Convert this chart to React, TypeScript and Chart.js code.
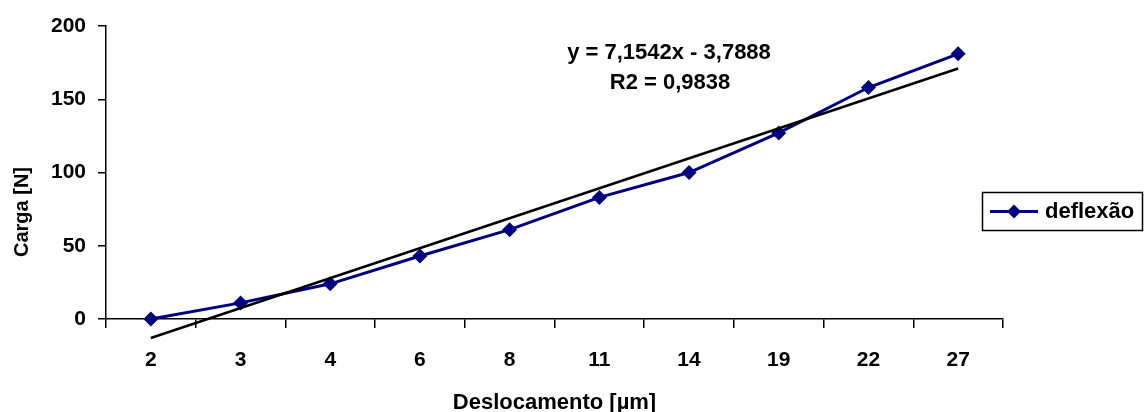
import React, { useEffect, useRef } from "react";
import { Chart, registerables } from "chart.js";

Chart.register(...registerables);

const categories = ["2", "3", "4", "6", "8", "11", "14", "19", "22", "27"];
const cargaValues = [0, 11, 24, 43, 61, 83, 100, 127, 158, 181];
// linear trendline: first and last ends only
const trendValues = [-13, null, null, null, null, null, null, null, null, 171];
const yTicks = [0, 50, 100, 150, 200];
const equationLines = ["y = 7,1542x - 3,7888", "R2 = 0,9838"];
const seriesLabel = "deflexão";
const xTitle = "Deslocamento [µm]";
const yTitle = "Carga [N]";

const FONT = "'Liberation Sans', Arial, sans-serif";
const NAVY = "#000080";

function drawDiamond(ctx: CanvasRenderingContext2D, x: number, y: number, r: number) {
  ctx.beginPath();
  ctx.moveTo(x - r, y);
  ctx.lineTo(x, y - r);
  ctx.lineTo(x + r, y);
  ctx.lineTo(x, y + r);
  ctx.closePath();
  ctx.fill();
}

const overlayPlugin = {
  id: "overlay",
  afterDraw(chart: any) {
    const ctx: CanvasRenderingContext2D = chart.ctx;
    const area = chart.chartArea;
    ctx.save();
    ctx.fillStyle = "#000";
    // y axis title
    ctx.font = `bold 20px ${FONT}`;
    ctx.textAlign = "center";
    ctx.textBaseline = "middle";
    ctx.save();
    ctx.translate(22, area.top + 186);
    ctx.rotate(-Math.PI / 2);
    ctx.fillText(yTitle, 0, 0);
    ctx.restore();
    // equation
    ctx.font = `bold 22px ${FONT}`;
    ctx.fillText(equationLines[0], 669, 53);
    ctx.fillText(equationLines[1], 670, 83);
    // legend
    const lx = 982.5, ly = 192.5, lw = 160, lh = 38;
    ctx.fillStyle = "#fff";
    ctx.fillRect(lx, ly, lw, lh);
    ctx.strokeStyle = "#000";
    ctx.lineWidth = 1.5;
    ctx.strokeRect(lx, ly, lw, lh);
    const cy = ly + lh / 2;
    ctx.strokeStyle = NAVY;
    ctx.lineWidth = 3;
    ctx.beginPath();
    ctx.moveTo(990, cy);
    ctx.lineTo(1038, cy);
    ctx.stroke();
    ctx.fillStyle = NAVY;
    drawDiamond(ctx, 1014, cy, 7);
    ctx.fillStyle = "#000";
    ctx.font = `bold 22px ${FONT}`;
    ctx.textAlign = "left";
    ctx.fillText(seriesLabel, 1045, cy);
    ctx.restore();
  },
};

export default function App() {
  const canvasRef = useRef<HTMLCanvasElement | null>(null);

  useEffect(() => {
    document.body.style.margin = "0";
    const canvas = canvasRef.current;
    if (!canvas) return;
    const chart = new Chart(canvas, {
      type: "line",
      data: {
        labels: categories,
        datasets: [
          {
            label: seriesLabel,
            data: cargaValues,
            borderColor: NAVY,
            backgroundColor: NAVY,
            borderWidth: 3,
            pointStyle: "rectRot",
            pointRadius: 7.5,
            pointBorderWidth: 0,
            pointBackgroundColor: NAVY,
            clip: false as any,
            tension: 0,
            order: 2,
          },
          {
            label: "trend",
            data: trendValues as any,
            borderColor: "#000",
            borderWidth: 2.5,
            pointRadius: 0,
            spanGaps: true,
            clip: false as any,
            tension: 0,
            order: 1,
          },
        ],
      },
      options: {
        responsive: false,
        animation: false,
        layout: { padding: { left: 0, right: 142, top: 26, bottom: 0 } },
        plugins: {
          legend: { display: false },
          tooltip: { enabled: false },
        },
        scales: {
          x: {
            type: "category",
            offset: true,
            grid: {
              offset: true,
              drawOnChartArea: false,
              drawTicks: true,
              tickLength: 9,
              color: "#000",
              lineWidth: 1.5,
            },
            border: { display: true, color: "#000", width: 1.5 },
            ticks: {
              color: "#000",
              font: { family: FONT, size: 21, weight: "bold" },
              padding: 20,
              maxRotation: 0,
              autoSkip: false,
            },
            title: {
              display: true,
              text: xTitle,
              color: "#000",
              font: { family: FONT, size: 22, weight: "bold", lineHeight: 1 },
              padding: { top: 0, bottom: -2 },
            },
            afterFit(scale: any) {
              scale.height = 93;
            },
          },
          y: {
            min: 0,
            max: 200,
            afterBuildTicks(scale: any) {
              scale.ticks = yTicks.map((v) => ({ value: v }));
            },
            grid: {
              drawOnChartArea: false,
              drawTicks: true,
              tickLength: 8,
              color: "#000",
              lineWidth: 1.5,
            },
            border: { display: true, color: "#000", width: 1.5 },
            ticks: {
              color: "#000",
              font: { family: FONT, size: 21, weight: "bold" },
              padding: 12,
            },
            afterFit(scale: any) {
              scale.width = 106;
            },
          },
        },
      },
      plugins: [overlayPlugin],
    });
    return () => chart.destroy();
  }, []);

  return (
    <div style={{ position: "absolute", left: 0, top: 0, width: 1145, height: 412, background: "#fff" }}>
      <canvas ref={canvasRef} width={1145} height={412} style={{ width: 1145, height: 412, display: "block" }} />
    </div>
  );
}
